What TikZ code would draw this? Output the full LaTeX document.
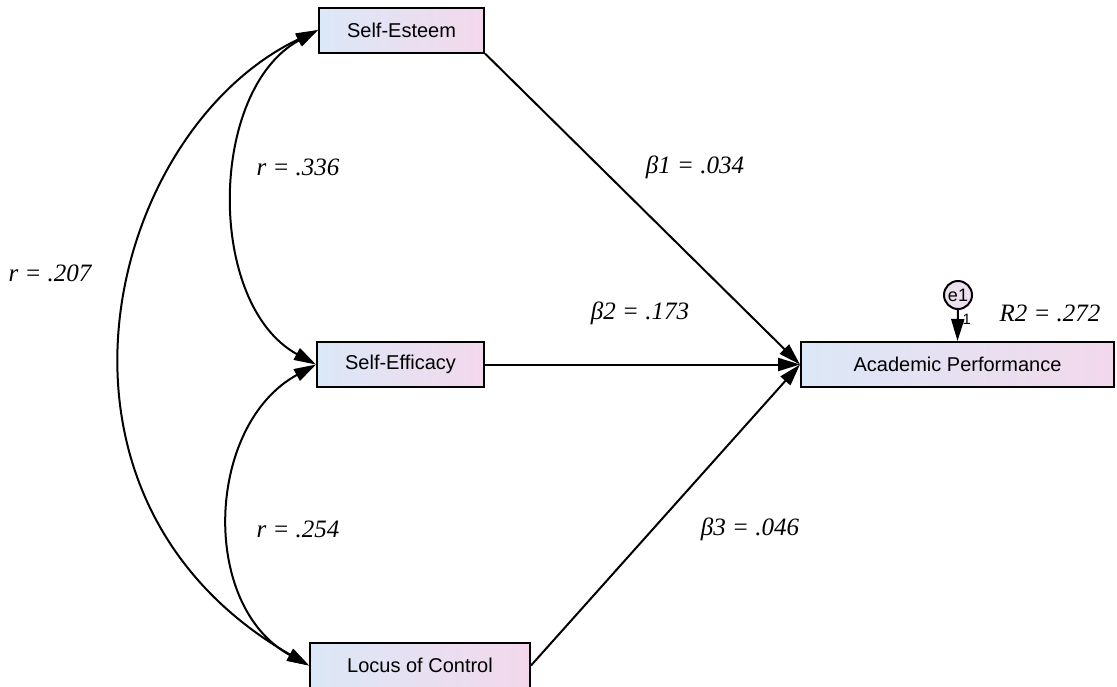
\documentclass[tikz,border=0pt]{standalone}
\usepackage{fontspec}
\setmainfont{Liberation Serif}
\setsansfont{Liberation Sans}
\usetikzlibrary{arrows.meta}
\definecolor{varblue}{RGB}{219,232,247}
\definecolor{varpink}{RGB}{243,216,236}
\definecolor{errfill}{RGB}{236,224,238}
\tikzstyle{var} = [draw,line width=2pt,left color=varblue,right color=varpink,minimum height=45pt,inner sep=0pt,font=\sffamily\fontsize{20}{24}\selectfont]
\tikzstyle{err} = [draw,circle,line width=2pt,fill=errfill,minimum size=28pt,inner sep=0pt,font=\sffamily\fontsize{18}{20}\selectfont]
\tikzstyle{coef} = [font=\itshape\fontsize{25}{30}\selectfont]
\tikzstyle{effect} = [line width=2pt,->]
\tikzstyle{corr} = [line width=2pt,<->]

\begin{document}
\begin{tikzpicture}[x=1pt,y=-1pt,>={Triangle[length=22pt,width=13pt]}]
\useasboundingbox[fill=white] (0,0) rectangle (1117,686);
%%% Predictors
\node[var,minimum width=165pt] at (401.5,30) (esteem) {Self-Esteem};
\node[var,minimum width=167pt] at (400.5,364.5) (efficacy) {Self-Efficacy};
\node[var,minimum width=220pt] at (420,665.5) (locus) {Locus of Control};
%%% Outcome and its error
\node[var,minimum width=313pt] at (957.5,364.5) (perf) {Academic Performance};
\node[err] at (958,295) (e1) {e1};
\draw[effect] (e1) -- (perf.north) node[pos=0.3,right,inner sep=0pt,xshift=4pt,font=\sffamily\fontsize{15}{16}\selectfont] (one) {1};

% Regression paths
\draw[effect] (esteem.south east) -- (perf.west);
\draw[effect] (efficacy) -- (perf);
\draw[effect] (locus.east) -- (perf.west);

% Correlations
\draw[corr] (esteem.west) .. controls +(-110,60) and +(-110,-60) .. (efficacy.west);
\draw[corr] (efficacy.west) .. controls +(-110,60) and +(-110,-60) .. (locus.west);
\draw[corr] (esteem.west) .. controls +(-210,100) and +(-295,-170) .. (locus.west);

%%% Coefficients
\node[coef] at (298,167) (r1) {r = .336};
\node[coef] at (50,273) (r3) {r = .207};
\node[coef] at (298,529) (r2) {r = .254};
\node[coef] at (695,167) (b1) {β1 = .034};
\node[coef] at (640,313) (b2) {β2 = .173};
\node[coef] at (750,529) (b3) {β3 = .046};
\node[coef] at (1050,313) (rsq) {R2 = .272};
\end{tikzpicture}
\end{document}
